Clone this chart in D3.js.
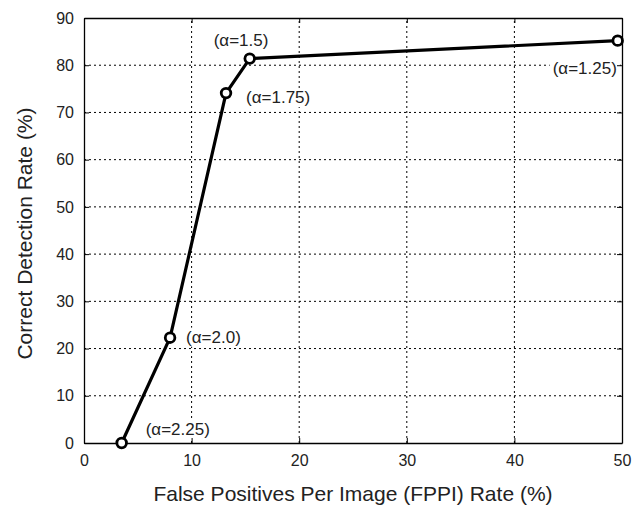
<!DOCTYPE html>
<html>
<head>
<meta charset="utf-8">
<script src="https://cdn.jsdelivr.net/npm/d3@7"></script>
<style>
  body { margin: 0; background: #fff; }
  text { font-family: "Liberation Sans", Arial, sans-serif; fill: #222; }
</style>
</head>
<body>
<div id="canvas"></div>
<script>
// data
const fppi = [3.5, 8.0, 13.2, 15.4, 49.6];
const detection = [0, 22.3, 74.1, 81.4, 85.2];
const alphaLabels = ['(\u03b1=2.25)', '(\u03b1=2.0)', '(\u03b1=1.75)', '(\u03b1=1.5)', '(\u03b1=1.25)'];
const xTicks = [0, 10, 20, 30, 40, 50];
const yTicks = [0, 10, 20, 30, 40, 50, 60, 70, 80, 90];

// label offsets from point (px)
const labelOffsets = [[24, -14], [16, -1], [20, 4], [-36, -19], [-65, 27]];

const width = 644, height = 505;
const margin = {top: 18, right: 22, bottom: 62, left: 84};

const svg = d3.select('#canvas').append('svg')
  .attr('width', width)
  .attr('height', height);

const x = d3.scaleLinear().domain([0, 50]).range([margin.left, width - margin.right]);
const y = d3.scaleLinear().domain([0, 90]).range([height - margin.bottom, margin.top]);

// grid
svg.append('g').selectAll('line')
  .data(xTicks.slice(1, -1))
  .enter().append('line')
  .attr('x1', d => x(d)).attr('x2', d => x(d))
  .attr('y1', y(0)).attr('y2', y(90))
  .attr('stroke', '#000').attr('stroke-width', 1)
  .attr('stroke-dasharray', '2,3');

svg.append('g').selectAll('line')
  .data(yTicks.slice(1, -1))
  .enter().append('line')
  .attr('y1', d => y(d)).attr('y2', d => y(d))
  .attr('x1', x(0)).attr('x2', x(50))
  .attr('stroke', '#000').attr('stroke-width', 1)
  .attr('stroke-dasharray', '2,3');

// labels (white box behind, hides grid)
const pts = fppi.map((d, i) => [d, detection[i]]);
const lbl = svg.selectAll('.lbl')
  .data(pts)
  .enter().append('g')
  .attr('class', 'lbl');
lbl.append('text')
  .attr('x', (d, i) => x(d[0]) + labelOffsets[i][0])
  .attr('y', (d, i) => y(d[1]) + labelOffsets[i][1])
  .attr('dy', '0.35em')
  .style('font-size', '17px')
  .text((d, i) => alphaLabels[i]);
lbl.each(function() {
  const g = d3.select(this);
  const b = g.select('text').node().getBBox();
  g.insert('rect', 'text')
    .attr('x', b.x - 3).attr('y', b.y)
    .attr('width', b.width + 6).attr('height', b.height)
    .attr('fill', '#fff');
});

// axes
const xAxis = svg.append('g')
  .attr('transform', `translate(0,${y(0)})`)
  .call(d3.axisBottom(x).tickValues(xTicks).tickSizeInner(-5).tickSizeOuter(0).tickPadding(12));
const xAxisTop = svg.append('g')
  .attr('transform', `translate(0,${y(90)})`)
  .call(d3.axisTop(x).tickValues(xTicks).tickSizeInner(-5).tickSizeOuter(0).tickFormat(''));
const yAxis = svg.append('g')
  .attr('transform', `translate(${x(0)},0)`)
  .call(d3.axisLeft(y).tickValues(yTicks).tickSizeInner(-5).tickSizeOuter(0).tickPadding(10));
const yAxisRight = svg.append('g')
  .attr('transform', `translate(${x(50)},0)`)
  .call(d3.axisRight(y).tickValues(yTicks).tickSizeInner(-5).tickSizeOuter(0).tickFormat(''));

[xAxis, xAxisTop, yAxis, yAxisRight].forEach(a => {
  a.select('.domain').attr('stroke', '#000').attr('stroke-width', 1.3);
  a.selectAll('.tick line').attr('stroke', '#000');
  a.selectAll('.tick text').style('font-size', '16px').attr('fill', '#222');
});

// axis titles
svg.append('text')
  .attr('x', (x(0) + x(50)) / 2)
  .attr('y', 501)
  .attr('text-anchor', 'middle')
  .style('font-size', '21px')
  .text('False Positives Per Image (FPPI) Rate (%)');

svg.append('text')
  .attr('transform', `translate(32,${(y(0) + y(90)) / 2 + 3}) rotate(-90)`)
  .attr('text-anchor', 'middle')
  .style('font-size', '21px')
  .text('Correct Detection Rate (%)');

// line
svg.append('path')
  .datum(pts)
  .attr('d', d3.line().x(d => x(d[0])).y(d => y(d[1])))
  .attr('fill', 'none')
  .attr('stroke', '#000')
  .attr('stroke-width', 3.2)
  .attr('stroke-linejoin', 'round');

svg.selectAll('.pt')
  .data(pts)
  .enter().append('circle')
  .attr('class', 'pt')
  .attr('cx', d => x(d[0]))
  .attr('cy', d => y(d[1]))
  .attr('r', 4.8)
  .attr('fill', '#fff')
  .attr('stroke', '#000')
  .attr('stroke-width', 2.8);
</script>
</body>
</html>
